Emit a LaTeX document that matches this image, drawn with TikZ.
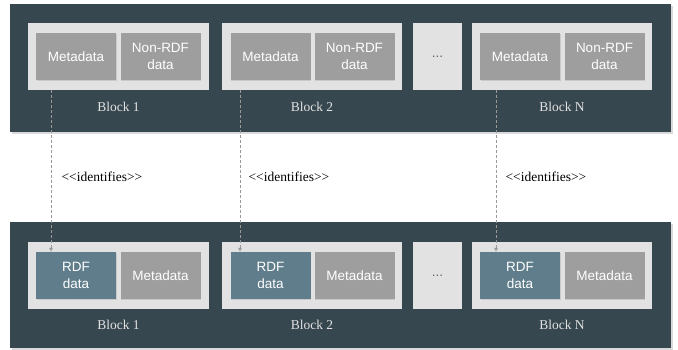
\documentclass[tikz,border=0pt]{standalone}
\usepackage{fontspec}
\setmainfont{Liberation Serif}
\newfontfamily\boxfont{Liberation Sans}
\usetikzlibrary{arrows.meta,shadows}

\definecolor{panelgrey}{HTML}{37474F}
\definecolor{blocklight}{HTML}{E2E2E2}
\definecolor{partgrey}{HTML}{9E9E9E}
\definecolor{rdfblue}{HTML}{607D8B}
\definecolor{linkgrey}{HTML}{9A9A9A}

\tikzset{
    block/.style={fill=blocklight, minimum width=180pt, minimum height=67pt, inner sep=0pt},
    dotsblock/.style={block, minimum width=49pt, text=black!60, font=\boxfont\fontsize{13.5}{16.5}\selectfont},
    part/.style={fill=partgrey, minimum width=80pt, minimum height=47pt, inner sep=0pt,
        text=white, align=center, font=\boxfont\fontsize{13.5}{16.5}\selectfont,
        drop shadow={opacity=0.25, shadow xshift=0.6pt, shadow yshift=-1pt}},
    rdfpart/.style={part, fill=rdfblue},
    blocklabel/.style={text=blocklight, font=\fontsize{13.5}{16}\selectfont},
    identifies/.style={anchor=west, font=\fontsize{13.5}{16}\selectfont},
    link/.style={draw=linkgrey, densely dashed, -{Latex[length=4pt,width=4pt]}}
}

\begin{document}
\begin{tikzpicture}[x=1pt, y=-1pt]
        \useasboundingbox (0,0) rectangle (678,350);

        % the two chains
        \fill[panelgrey, drop shadow={opacity=0.3}] (10,4) rectangle (671,132);
        \fill[panelgrey, drop shadow={opacity=0.3}] (10,222) rectangle (671,348);

        % upper chain
        \node[block, minimum width=181pt] (top1) at (118.5,56.5) {};
        \node[block] (top2) at (312,56.5) {};
        \node[dotsblock] (topdots) at (437.5,56.5) {...};
        \node[block] (topN) at (562,56.5) {};

        \node[part] (topmeta1) at (76,56.5) {Metadata};
        \node[part] (topdata1) at (160.5,56.5) {Non-RDF\\data};
        \node[part] (topmeta2) at (270.5,56.5) {Metadata};
        \node[part] (topdata2) at (354.5,56.5) {Non-RDF\\data};
        \node[part] (topmetaN) at (520,56.5) {Metadata};
        \node[part] (topdataN) at (604.5,56.5) {Non-RDF\\data};

        \node[blocklabel] (toplabel1) at (118.5,107) {Block 1};
        \node[blocklabel] (toplabel2) at (312,107) {Block 2};
        \node[blocklabel] (toplabelN) at (562,107) {Block N};

        % lower chain
        \node[block, minimum width=181pt] (bot1) at (118.5,275.5) {};
        \node[block] (bot2) at (312,275.5) {};
        \node[dotsblock] (botdots) at (437.5,275.5) {...};
        \node[block] (botN) at (562,275.5) {};

        \node[rdfpart] (botrdf1) at (76,275.5) {RDF\\data};
        \node[part] (botmeta1) at (160.5,275.5) {Metadata};
        \node[rdfpart] (botrdf2) at (270.5,275.5) {RDF\\data};
        \node[part] (botmeta2) at (354.5,275.5) {Metadata};
        \node[rdfpart] (botrdfN) at (520,275.5) {RDF\\data};
        \node[part] (botmetaN) at (604.5,275.5) {Metadata};

        \node[blocklabel] (botlabel1) at (118.5,325) {Block 1};
        \node[blocklabel] (botlabel2) at (312,325) {Block 2};
        \node[blocklabel] (botlabelN) at (562,325) {Block N};

        % links
        \coordinate (link1) at (51,90);
        \coordinate (link2) at (240,90);
        \coordinate (linkN) at (496,90);

        \draw[link] (link1) -- (link1 |- botrdf1.north);
        \draw[link] (link2) -- (link2 |- botrdf2.north);
        \draw[link] (linkN) -- (linkN |- botrdfN.north);

        \node[identifies] (ident1) at (58,177) {{<}{<}identifies{>}{>}};
        \node[identifies] (ident2) at (245,177) {{<}{<}identifies{>}{>}};
        \node[identifies] (identN) at (502,177) {{<}{<}identifies{>}{>}};
    \end{tikzpicture}
\end{document}
